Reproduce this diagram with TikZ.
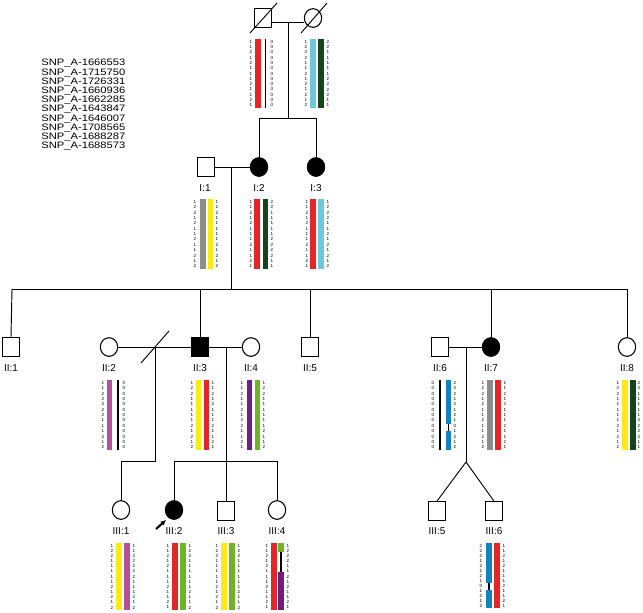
\documentclass[tikz,border=0pt]{standalone}
\usepackage{fontspec}
\setmainfont{Liberation Sans}
\usetikzlibrary{shapes.geometric,arrows.meta}
\definecolor{hred}{RGB}{228,38,40}
\definecolor{hcyan}{RGB}{110,200,220}
\definecolor{hdkgreen}{RGB}{20,70,30}
\definecolor{hgrey}{RGB}{140,140,140}
\definecolor{hyellow}{RGB}{250,235,20}
\definecolor{hmagenta}{RGB}{180,80,160}
\definecolor{hpurple}{RGB}{110,30,130}
\definecolor{hgreen}{RGB}{110,180,40}
\definecolor{hblue}{RGB}{20,130,190}
\tikzset{
  ped/.style={draw=black, line width=0.8pt},
  male/.style={ped, rectangle, minimum width=12.5pt, minimum height=14pt, inner sep=0pt, fill=white},
  female/.style={ped, ellipse, minimum width=13pt, minimum height=14pt, inner sep=0pt, fill=white},
  aff/.style={fill=black},
  lbl/.style={font=\fontsize{7.5}{8}\selectfont, inner sep=0pt},
  dig/.style={font=\fontsize{3.4}{3.4}\selectfont, inner sep=0pt},
  snp/.style={font=\fontsize{7}{8}\selectfont, inner sep=0pt, anchor=west, xscale=1.2},
  line/.style={black, line width=0.7pt}
}
\def\hRED{1,1,2,1,2,1,1,1,2,1,1,2,1}
\def\hDG{2,2,1,1,1,1,1,2,2,2,2,1,1}
\def\hCY{1,2,2,2,1,1,2,1,2,1,2,1,2}
\def\hGR{1,2,2,1,2,1,1,2,1,1,2,1,2}
\def\hYE{1,2,2,1,1,1,1,1,2,1,2,1,2}
\def\hMA{1,1,2,2,2,2,2,1,1,1,2,1,2}
\def\hPU{1,1,2,1,1,2,1,2,2,1,1,2,1}
\def\hGN{1,2,2,1,1,1,1,1,1,2,1,1,2}
\def\hBL{2,2,2,1,2,1,2,1,0,1,2,1,2}
\def\hRC{1,2,2,2,1,1,2,1,2,1,1,2,1}
\def\hZ{0,0,0,0,0,0,0,0,0,0,0,0,0}
% \digcol{name}{x}{ytop}{height}{list macro}
\newcommand{\digcol}[5]{%
  \foreach \dd [count=\ii] in #5 {\node[dig] (#1-\ii) at (#2,{#3+(\ii-0.5)*#4/13}) {\dd};}}
\begin{document}
\begin{tikzpicture}[x=0.75pt,y=-0.75pt]
\useasboundingbox (0,0) rectangle (643,612);
% SNP list
\foreach \s [count=\i] in {1666553,1715750,1726331,1660936,1662285,1643847,1646007,1708565,1688287,1688573}
  \node[snp] (snp\i) at (41,{63.5+(\i-1)*9.2}) {SNP\_A-\s};
% ---------- founders ----------
\node[male] (F1) at (263,18) {};
\node[female] (F2) at (313,18) {};
\draw[line] (250,33) -- (277,3);
\draw[line] (301,33) -- (327,3);
\coordinate (mF) at (288,22);
\draw[line] (F1.east |- mF) -- (F2.west |- mF);
\coordinate (sibI) at (288,118);
\draw[line] (mF) -- (sibI);
% founder haplotypes
\digcol{f1a}{251}{39}{69}{\hRED}
\fill[hred] (255,39) rectangle (261,108);
\draw[black, line width=1.1pt] (265.5,39) -- (265.5,108);
\digcol{f1b}{272}{39}{69}{\hZ}
\digcol{f2a}{306}{39}{69}{\hCY}
\fill[hcyan] (310,39) rectangle (316,108);
\fill[hdkgreen] (318,39) rectangle (324,108);
\digcol{f2b}{328}{39}{69}{\hDG}
% ---------- generation I ----------
\node[male] (I1) at (206,167) {};
\node[female, aff] (I2) at (259,167) {};
\node[female, aff] (I3) at (316,167) {};
\draw[line] (259,118) -- (316,118);
\draw[line] (259,118) -- (I2.north);
\draw[line] (316,118) -- (I3.north);
\draw[line] (I1) -- (I2);
\node[lbl] (lI1) at (205,188) {I:1};
\node[lbl] (lI2) at (259,188) {I:2};
\node[lbl] (lI3) at (316,188) {I:3};
% I haplotypes
\digcol{i1a}{195}{199}{70}{\hGR}
\fill[hgrey] (200,199) rectangle (206,269);
\fill[hyellow] (208,199) rectangle (213,269);
\digcol{i1b}{217}{199}{70}{\hYE}
\digcol{i2a}{251}{199}{70}{\hRED}
\fill[hred] (254,199) rectangle (260,269);
\fill[hdkgreen] (263,199) rectangle (268,269);
\digcol{i2b}{272}{199}{70}{\hDG}
\digcol{i3a}{307}{199}{70}{\hRED}
\fill[hred] (310,199) rectangle (316,269);
\fill[hcyan] (318,199) rectangle (324,269);
\digcol{i3b}{328}{199}{70}{\hCY}
% descent I1 x I2 to sibship II
\coordinate (mI) at (231,167);
\coordinate (sII) at (231,289);
\draw[line] (mI) -- (sII);
\draw[line] (12,289) -- (628,289);
% ---------- generation II ----------
\node[male] (II1) at (11,347) {};
\node[female] (II2) at (109,347) {};
\node[male, aff] (II3) at (200,347) {};
\node[female] (II4) at (251,347) {};
\node[male] (II5) at (310,347) {};
\node[male] (II6) at (440,347) {};
\node[female, aff] (II7) at (491,347) {};
\node[female] (II8) at (627,347) {};
\draw[line] (12,289) -- (II1.north);
\draw[line] (200,289) -- (II3.north);
\draw[line] (310,289) -- (II5.north);
\draw[line] (491,289) -- (II7.north);
\draw[line] (627,289) -- (II8.north);
\draw[line] (II2) -- (II3);
\draw[line] (141,363) -- (169,331);
\draw[line] (II3) -- (II4);
\draw[line] (II6) -- (II7);
\foreach \n/\x/\t in {II1/11/II:1,II2/109/II:2,II3/200/II:3,II4/251/II:4,II5/310/II:5,II6/440/II:6,II7/491/II:7,II8/627/II:8}
  \node[lbl] (l\n) at (\x,368) {\t};
% II haplotypes
\digcol{ii2a}{103}{380}{70}{\hMA}
\fill[hmagenta] (107,380) rectangle (112,450);
\draw[black, line width=1.1pt] (118,380) -- (118,450);
\digcol{ii2b}{124}{380}{70}{\hZ}
\digcol{ii3a}{192}{380}{70}{\hYE}
\fill[hyellow] (196,380) rectangle (201,450);
\fill[hred] (204,380) rectangle (209,450);
\digcol{ii3b}{213}{380}{70}{\hRED}
\digcol{ii4a}{242}{380}{70}{\hPU}
\fill[hpurple] (247,380) rectangle (252,450);
\fill[hgreen] (255,380) rectangle (260,450);
\digcol{ii4b}{264}{380}{70}{\hGN}
\digcol{ii6a}{433}{380}{70}{\hZ}
\draw[black, line width=1.1pt] (440,380) -- (440,450);
\fill[hblue] (446,380) rectangle (451,424);
\draw[black, line width=1.1pt] (448.5,424) -- (448.5,431);
\fill[hblue] (446,431) rectangle (451,450);
\digcol{ii6b}{455}{380}{70}{\hBL}
\digcol{ii7a}{483}{380}{70}{\hGR}
\fill[hgrey] (487,380) rectangle (493,450);
\fill[hred] (495,380) rectangle (501,450);
\digcol{ii7b}{505}{380}{70}{\hRED}
\digcol{ii8a}{618}{380}{70}{\hYE}
\fill[hyellow] (622,380) rectangle (628,450);
\fill[hdkgreen] (630,380) rectangle (636,450);
\digcol{ii8b}{639}{380}{70}{\hDG}
% ---------- generation III ----------
\coordinate (mII23) at (155,347);
\draw[line] (mII23) -- (155,461) -- (121,461);
\coordinate (mII34) at (226,347);
\draw[line] (mII34) -- (226,461);
\draw[line] (174,461) -- (277,461);
\coordinate (mII67) at (466,347);
\draw[line] (mII67) -- (466,462);
\node[female] (III1) at (121,510) {};
\node[female, aff] (III2) at (174,510) {};
\node[male] (III3) at (226,511) {};
\node[female] (III4) at (277,510) {};
\node[male] (III5) at (437,511) {};
\node[male] (III6) at (494,511) {};
\draw[line] (121,461) -- (III1.north);
\draw[line] (174,461) -- (III2.north);
\draw[line] (226,461) -- (III3.north);
\draw[line] (277,461) -- (III4.north);
\draw[line] (466,462) -- (III5.north);
\draw[line] (466,462) -- (III6.north);
\coordinate (arrT) at (156,529);
\draw[-{Latex[length=4pt,width=4pt]}, line width=1.6pt] (arrT) -- (166,520);
\foreach \n/\x/\t in {III1/121/III:1,III2/174/III:2,III3/226/III:3,III4/277/III:4,III5/437/III:5,III6/494/III:6}
  \node[lbl] (l\n) at (\x,531) {\t};
% III haplotypes
\digcol{iii1a}{112}{543}{67}{\hYE}
\fill[hyellow] (116,543) rectangle (122,610);
\fill[hmagenta] (124,543) rectangle (130,610);
\digcol{iii1b}{134}{543}{67}{\hMA}
\digcol{iii2a}{168}{543}{67}{\hRED}
\fill[hred] (172,543) rectangle (178,610);
\fill[hgreen] (180,543) rectangle (186,610);
\digcol{iii2b}{190}{543}{67}{\hGN}
\digcol{iii3a}{217}{543}{67}{\hYE}
\fill[hyellow] (221,543) rectangle (227,610);
\fill[hgreen] (229,543) rectangle (235,610);
\digcol{iii3b}{239}{543}{67}{\hGN}
\digcol{iii4a}{267}{543}{67}{\hRED}
\fill[hred] (271,543) rectangle (277,610);
\fill[hgreen] (278,543) rectangle (284,552);
\draw[black, line width=1.1pt] (281,552) -- (281,572);
\fill[hpurple] (278,572) rectangle (284,610);
\digcol{iii4b}{288}{543}{67}{\hRC}
\digcol{iii6a}{481}{543}{65}{\hBL}
\fill[hblue] (486,543) rectangle (492,583);
\draw[black, line width=1.1pt] (489,583) -- (489,590);
\fill[hblue] (486,590) rectangle (492,608);
\fill[hred] (494,543) rectangle (500,608);
\digcol{iii6b}{504}{543}{65}{\hRED}
\end{tikzpicture}
\end{document}
